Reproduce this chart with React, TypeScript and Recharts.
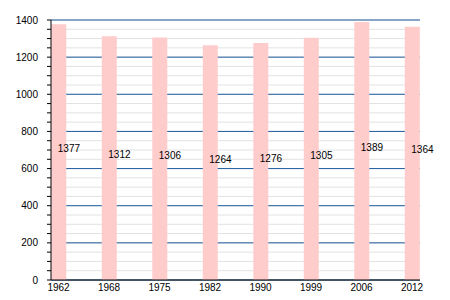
import { BarChart, Bar, XAxis, YAxis, CartesianGrid, LabelList } from 'recharts'

const years = ['1962', '1968', '1975', '1982', '1990', '1999', '2006', '2012']
const population = [1377, 1312, 1306, 1264, 1276, 1305, 1389, 1364]
const majorTicks = [0, 200, 400, 600, 800, 1000, 1200, 1400]
const minorTicks = Array.from({ length: 29 }, (_, i) => i * 50)

const data = years.map((y, i) => ({ idx: i, year: y, value: population[i] }))

const font = { fontFamily: 'Liberation Sans, Arial, sans-serif', fontSize: 10, fill: '#000' }

function ValueLabel(props: any) {
    const { x, y, width, height, value } = props
    return (
        <text x={x + width / 2 - 1} y={y + height / 2} style={font} textAnchor="start">
            {value}
        </text>
    )
}

// only every 200 gets a label, the rest are minor ticks
function YTick(props: any) {
    const { x, y, payload } = props
    if (payload.value % 200 !== 0) return null
    return (
        <text x={x} y={y} dy="0.35em" textAnchor="end" style={font}>
            {payload.value}
        </text>
    )
}

export default function App() {
    return (
        <div style={{ position: 'absolute', left: 0, top: 0, background: '#fff' }}>
            <BarChart width={450} height={300} data={data} margin={{ top: 20, right: 30, bottom: 0, left: 0 }}>
                <CartesianGrid vertical={false} stroke="#e2e2e2" horizontalValues={minorTicks} />
                <CartesianGrid vertical={false} stroke="#1f5c9e" horizontalValues={majorTicks} />
                <XAxis
                    dataKey="idx"
                    type="number"
                    domain={[-0.149, 7.158]}
                    ticks={[0, 1, 2, 3, 4, 5, 6, 7]}
                    tickFormatter={(i: number) => years[i]}
                    allowDataOverflow
                    height={20}
                    tickLine={false}
                    tickSize={0}
                    tickMargin={4}
                    axisLine={{ stroke: '#000' }}
                    tick={font}
                />
                <YAxis
                    domain={[0, 1400]}
                    ticks={minorTicks}
                    interval={0}
                    width={51}
                    tick={<YTick />}
                    tickSize={4}
                    tickMargin={9}
                    tickLine={{ stroke: '#000' }}
                    axisLine={{ stroke: '#000' }}
                />
                <Bar dataKey="value" fill="#ffcccc" barSize={15} isAnimationActive={false}>
                    <LabelList dataKey="value" content={<ValueLabel />} />
                </Bar>
            </BarChart>
        </div>
    )
}
